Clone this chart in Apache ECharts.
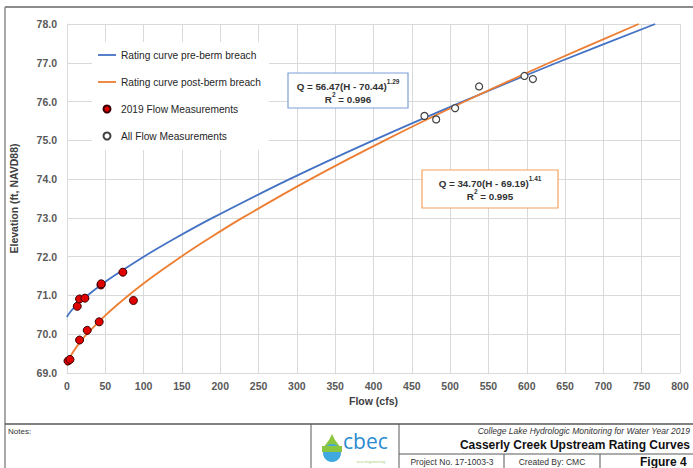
<!DOCTYPE html>
<html>
<head>
<meta charset="utf-8">
<script src="https://cdn.jsdelivr.net/npm/echarts@6/dist/echarts.min.js"></script>
<style>
html,body{margin:0;padding:0;background:#fff;}
#chart{width:693px;height:468px;}
</style>
</head>
<body>
<div id="chart"></div>
<script>
// ---- data ----
var xTicks = [0,50,100,150,200,250,300,350,400,450,500,550,600,650,700,750,800];
var yTicks = [69,70,71,72,73,74,75,76,77,78];

// Rating curve pre-berm breach: elevation (ft) and flow (cfs)
var preH = [70.44, 70.5, 70.6, 70.7, 70.8, 71.0, 71.25, 71.5, 72.0, 72.5, 73.0, 74.0, 75.0, 76.0, 77.0, 78.0];
var preQ = [0, 1.5, 5.3, 9.9, 15.1, 26.7, 43.0, 60.9, 100.2, 143.5, 189.9, 290.5, 399.8, 516.4, 639.2, 767.6];

// Rating curve post-berm breach
var postH = [69.19, 69.25, 69.3, 69.4, 69.5, 69.75, 70.0, 70.5, 71.0, 71.5, 72.0, 72.5, 73.0, 74.0, 75.0, 76.0, 77.0, 78.0];
var postQ = [0, 0.66, 1.54, 3.85, 6.66, 15.3, 25.8, 50.8, 80.1, 113.0, 148.9, 187.7, 228.8, 317.8, 414.8, 518.9, 629.5, 746.1];

// 2019 Flow Measurements
var m2019Q = [1.3, 3.9, 16.4, 26.4, 42.0, 13.4, 16.4, 23.4, 44.3, 44.7, 72.9, 86.7];
var m2019H = [69.31, 69.35, 69.85, 70.10, 70.32, 70.72, 70.91, 70.93, 71.27, 71.30, 71.60, 70.87];

// All Flow Measurements
var allQ = [466.5, 481.8, 506.5, 537.8, 597.0, 608.0];
var allH = [75.63, 75.54, 75.83, 76.39, 76.66, 76.58];

var seriesNames = ['Rating curve pre-berm breach', 'Rating curve post-berm breach', '2019 Flow Measurements', 'All Flow Measurements'];
var eqPre = ['Q = 56.47(H - 70.44)', '1.29', 'R', '2', ' = 0.996'];
var eqPost = ['Q = 34.70(H - 69.19)', '1.41', 'R', '2', ' = 0.995'];
var titleTexts = ['Notes:', 'College Lake Hydrologic Monitoring for Water Year 2019', 'Casserly Creek Upstream Rating Curves', 'Project No. 17-1003-3', 'Created By: CMC', 'Figure 4', 'cbec', 'eco engineering'];

function pairs(xs, ys){ return xs.map(function(x,i){ return [x, ys[i]]; }); }

var FONT = "'Liberation Sans Narrow', 'Liberation Sans', sans-serif";
var BLUE = '#4472c4', ORANGE = '#ed7d31';
var LINE_ICON = 'path://M0,0 L20,0 L20,2 L0,2 Z';

var chart = echarts.init(document.getElementById('chart'), null, {renderer:'svg'});

function eqText(eq, cx, y, boxColor, bx, by, bw, bh){
  return [
    {type:'rect', shape:{x:bx, y:by, width:bw, height:bh}, style:{fill:'#fff', stroke:boxColor, lineWidth:1.2}, z:10},
    {type:'text', x:cx, y:y, z:11, style:{
      text:'{a|'+eq[0]+'}{s|'+eq[1]+'}\n{a|'+eq[2]+'}{s|'+eq[3]+'}{a|'+eq[4]+'}',
      align:'center', verticalAlign:'top', fill:'#333',
      rich:{ a:{fontFamily:FONT, fontSize:9.8, fontWeight:'bold', fill:'#333', lineHeight:13, verticalAlign:'bottom'},
             s:{fontFamily:FONT, fontSize:6.5, fontWeight:'bold', fill:'#333', lineHeight:13, verticalAlign:'top', padding:[0,0,4,0]} }
    }}
  ];
}

var LINE = '#595959';
var graphics = [
  // outer frame
  {type:'line', shape:{x1:5, y1:7, x2:693, y2:7}, style:{stroke:'#8c8c8c', lineWidth:2}},
  {type:'line', shape:{x1:5, y1:7, x2:5, y2:468}, style:{stroke:'#8c8c8c', lineWidth:1.5}},
  // title block
  {type:'line', shape:{x1:5, y1:424, x2:693, y2:424}, style:{stroke:LINE, lineWidth:1.5}},
  {type:'line', shape:{x1:311, y1:424, x2:311, y2:468}, style:{stroke:LINE, lineWidth:1}},
  {type:'line', shape:{x1:399, y1:424, x2:399, y2:468}, style:{stroke:LINE, lineWidth:1}},
  {type:'line', shape:{x1:399, y1:454, x2:693, y2:454}, style:{stroke:LINE, lineWidth:1}},
  {type:'line', shape:{x1:504, y1:454, x2:504, y2:468}, style:{stroke:LINE, lineWidth:1}},
  {type:'line', shape:{x1:600, y1:454, x2:600, y2:468}, style:{stroke:LINE, lineWidth:1}},
  {type:'text', x:8, y:427, style:{text:titleTexts[0], fontFamily:FONT, fontSize:8, fill:'#333', verticalAlign:'top'}},
  {type:'text', x:690, y:426, style:{text:titleTexts[1], fontFamily:FONT, fontSize:8.5, fontStyle:'italic', fill:'#333', align:'right', verticalAlign:'top'}},
  {type:'text', x:690, y:439, style:{text:titleTexts[2], fontFamily:FONT, fontSize:12, fontWeight:'bold', fill:'#111', align:'right', verticalAlign:'top'}},
  {type:'text', x:452, y:457, style:{text:titleTexts[3], fontFamily:FONT, fontSize:8.5, fill:'#333', align:'center', verticalAlign:'top'}},
  {type:'text', x:552, y:457, style:{text:titleTexts[4], fontFamily:FONT, fontSize:8.5, fill:'#333', align:'center', verticalAlign:'top'}},
  {type:'text', x:640, y:456, style:{text:titleTexts[5], fontFamily:FONT, fontSize:12, fontWeight:'bold', fill:'#111', verticalAlign:'top'}},
  // cbec logo
  {type:'polygon', shape:{points:[[332,434],[329,440],[323,448],[323,452],[341,452],[341,448],[335,440]]}, style:{fill:'#8cc63f'}},
  {type:'circle', shape:{cx:332, cy:453, r:9}, style:{fill:'#3fa9e0'}},
  {type:'rect', shape:{x:322, y:446, width:20, height:6}, style:{fill:'#8cc63f'}},
  {type:'text', x:343, y:430, style:{text:titleTexts[6], fontFamily:"'Open Sans', sans-serif", fontSize:21, fill:'#2a8bd0', verticalAlign:'top'}},
  {type:'text', x:371, y:459, style:{text:titleTexts[7], fontFamily:FONT, fontSize:4, fill:'#a6cf7a', align:'center', verticalAlign:'top'}}
].concat(eqText(eqPre, 348, 78, '#7f9fd8', 288, 73, 120, 35))
 .concat(eqText(eqPost, 490, 175, '#f4a25c', 422, 170, 136, 38));

var option = {
  animation:false,
  backgroundColor:'#fff',
  grid:{left:66, top:24, width:614, height:349},
  legend:{
    orient:'vertical', left:92, top:42,
    padding:[8,8,9,6],
    backgroundColor:'#fff',
    itemWidth:18, itemHeight:7, itemGap:17,
    textStyle:{fontFamily:FONT, fontSize:10.2, color:'#262626'},
    data:[
      {name:seriesNames[0], icon:LINE_ICON},
      {name:seriesNames[1], icon:LINE_ICON},
      {name:seriesNames[2]},
      {name:seriesNames[3]}
    ],
    z:5
  },
  xAxis:{
    type:'value', min:0, max:800, interval:50,
    name:'Flow (cfs)', nameLocation:'middle', nameGap:20,
    nameTextStyle:{fontFamily:FONT, fontSize:10.5, fontWeight:'bold', color:'#404040'},
    axisLine:{show:true, lineStyle:{color:'#d9d9d9'}},
    axisTick:{show:false},
    axisLabel:{margin:7, fontFamily:FONT, fontSize:10.5, fontWeight:'bold', color:'#595959',
      formatter:function(v){return String(v);}},
    splitLine:{show:true, lineStyle:{color:'#d9d9d9', width:1}}
  },
  yAxis:{
    type:'value', min:69, max:78, interval:1,
    name:'Elevation (ft, NAVD88)', nameLocation:'middle', nameGap:48, nameRotate:90,
    nameTextStyle:{fontFamily:FONT, fontSize:10.5, fontWeight:'bold', color:'#404040'},
    axisLine:{show:true, lineStyle:{color:'#d9d9d9'}},
    axisTick:{show:false},
    axisLabel:{margin:10, fontFamily:FONT, fontSize:10.5, fontWeight:'bold', color:'#595959',
      formatter:function(v){return v.toFixed(1);}},
    splitLine:{show:true, lineStyle:{color:'#d9d9d9', width:1}}
  },
  series:[
    {name:seriesNames[0], type:'line', data:pairs(preQ, preH), smooth:0.3, symbol:'none',
      lineStyle:{color:BLUE, width:1.8}, itemStyle:{color:BLUE}, z:3},
    {name:seriesNames[1], type:'line', data:pairs(postQ, postH), smooth:0.3, symbol:'none',
      lineStyle:{color:ORANGE, width:1.8}, itemStyle:{color:ORANGE}, z:3},
    {name:seriesNames[2], type:'scatter', data:pairs(m2019Q, m2019H), symbol:'circle', symbolSize:8,
      itemStyle:{color:'#e00000', borderColor:'#3a0000', borderWidth:1, opacity:1}, z:4},
    {name:seriesNames[3], type:'scatter', data:pairs(allQ, allH), symbol:'circle', symbolSize:7,
      itemStyle:{color:'#ffffff', borderColor:'#404040', borderWidth:1.2, opacity:1}, z:4}
  ],
  graphic:graphics
};
chart.setOption(option);
</script>
</body>
</html>
